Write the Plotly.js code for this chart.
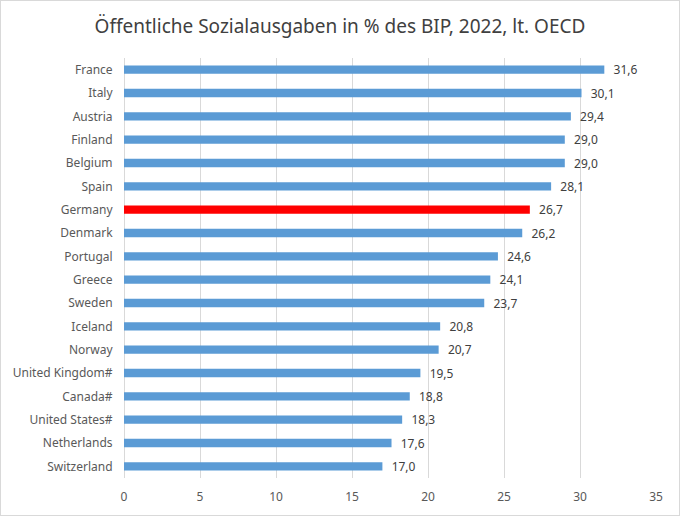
<!DOCTYPE html>
<html>
<head>
<meta charset="utf-8">
<script src="https://cdn.plot.ly/plotly-3.0.1.min.js"></script>
<style>
  html, body { margin: 0; padding: 0; background: #fff; }
  #chart { width: 678px; height: 514px; border: 1px solid #d9d9d9; }
</style>
</head>
<body>
<div id="chart"></div>
<script>
const countries = ["France","Italy","Austria","Finland","Belgium","Spain","Germany","Denmark","Portugal","Greece","Sweden","Iceland","Norway","United Kingdom#","Canada#","United States#","Netherlands","Switzerland"];
const values = [31.6,30.1,29.4,29.0,29.0,28.1,26.7,26.2,24.6,24.1,23.7,20.8,20.7,19.5,18.8,18.3,17.6,17.0];
const highlight = "Germany";
const xTicks = [0,5,10,15,20,25,30,35];

const colors = countries.map(c => c === highlight ? "#ff0000" : "#5b9bd5");

const trace = {
  type: "bar",
  orientation: "h",
  x: values,
  y: countries,
  marker: { color: colors },
  width: 0.36,
  texttemplate: "  %{x:.1f}",
  textposition: "outside",
  constraintext: "none",
  cliponaxis: false,
  textfont: { family: "Noto Sans, sans-serif", size: 12, color: "#404040" },
  hoverinfo: "none"
};

const layout = {
  width: 678, height: 514,
  margin: { l: 123, r: 23, t: 57, b: 37 },
  paper_bgcolor: "#fff",
  plot_bgcolor: "#fff",
  separators: ",.",
  showlegend: false,
  font: { family: "Noto Sans, sans-serif", color: "#595959", size: 12 },
  title: {
    text: "Öffentliche Sozialausgaben in % des BIP, 2022, lt. OECD",
    x: 0.5, xanchor: "center", y: 0.951, yanchor: "middle",
    font: { family: "Noto Sans, sans-serif", size: 19, color: "#404040" }
  },
  xaxis: {
    range: [0, 35],
    tickvals: xTicks,
    ticktext: xTicks.map(String),
    showgrid: true, gridcolor: "#d9d9d9", gridwidth: 1,
    zeroline: true, zerolinecolor: "#d9d9d9", zerolinewidth: 1,
    showline: false,
    ticks: "outside", ticklen: 8, tickcolor: "rgba(0,0,0,0)",
    tickfont: { size: 12, color: "#595959" },
    fixedrange: true
  },
  yaxis: {
    categoryorder: "array",
    categoryarray: countries,
    autorange: "reversed",
    showgrid: false, zeroline: false, showline: false,
    ticks: "outside", ticklen: 8, tickcolor: "rgba(0,0,0,0)",
    tickfont: { size: 12, color: "#595959" },
    fixedrange: true
  },
  bargap: 0.64
};

Plotly.newPlot("chart", [trace], layout, { displayModeBar: false, staticPlot: true });
</script>
</body>
</html>
